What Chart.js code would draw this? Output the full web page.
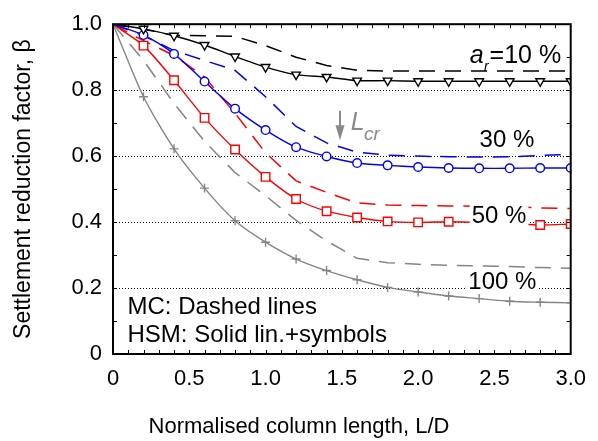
<!DOCTYPE html>
<html><head><meta charset="utf-8">
<script src="https://cdn.jsdelivr.net/npm/chart.js@4/dist/chart.umd.min.js"></script>
<style>html,body{margin:0;padding:0;background:#fff}</style>
</head><body>
<canvas id="c" width="598" height="441"></canvas>
<script>
// ---- data ----
const lengthRatio = [0, 0.2, 0.4, 0.6, 0.8, 1.0, 1.2, 1.4, 1.6, 1.8, 2.0, 2.2, 2.4, 2.6, 2.8, 3.0];
const hsm10  = [1.0, 0.986, 0.965, 0.937, 0.902, 0.870, 0.847, 0.840, 0.829, 0.829, 0.827, 0.827, 0.827, 0.827, 0.827, 0.827];
const hsm30  = [1.0, 0.967, 0.910, 0.826, 0.744, 0.679, 0.627, 0.599, 0.579, 0.572, 0.567, 0.564, 0.563, 0.563, 0.564, 0.564];
const hsm50  = [1.0, 0.935, 0.830, 0.716, 0.620, 0.537, 0.470, 0.433, 0.414, 0.402, 0.399, 0.401, 0.399, 0.397, 0.391, 0.394];
const hsm100 = [1.0, 0.780, 0.622, 0.503, 0.404, 0.339, 0.288, 0.253, 0.225, 0.202, 0.188, 0.176, 0.168, 0.160, 0.157, 0.155];
const mc10   = [1.0, 0.985, 0.966, 0.965, 0.963, 0.935, 0.900, 0.875, 0.860, 0.858, 0.858, 0.858, 0.858, 0.858, 0.858, 0.858];
const mc30   = [1.0, 0.965, 0.920, 0.890, 0.860, 0.780, 0.690, 0.640, 0.612, 0.603, 0.600, 0.598, 0.597, 0.598, 0.602, 0.605];
const mc50   = [1.0, 0.950, 0.905, 0.840, 0.730, 0.610, 0.525, 0.490, 0.458, 0.452, 0.450, 0.449, 0.448, 0.446, 0.443, 0.441];
const mc100  = [1.0, 0.890, 0.760, 0.645, 0.550, 0.480, 0.405, 0.343, 0.290, 0.277, 0.272, 0.269, 0.267, 0.265, 0.262, 0.260];
const xTickValues = [0, 0.5, 1.0, 1.5, 2.0, 2.5, 3.0];
const yTickValues = [0, 0.2, 0.4, 0.6, 0.8, 1.0];
const ratioLabels = ['10 %', '30 %', '50 %', '100 %'];
const methodNotes = ['MC: Dashed lines', 'HSM: Solid lin.+symbols'];

// ---- styling ----
const FONT = '"Liberation Sans", Arial, Helvetica, sans-serif';
const BLACK = '#000000', BLUE = '#0000ff', RED = '#ff0000', GREY = '#858585';
const pts = arr => lengthRatio.map((x, i) => ({x, y: arr[i]}));
const markerR = r => lengthRatio.map((x, i) => i === 0 ? 0 : r);

function hsm(label, arr, color, style, r, extra) {
  return Object.assign({
    label, data: pts(arr), borderColor: color, borderWidth: 1.4,
    pointStyle: style, pointRadius: markerR(r), pointHoverRadius: markerR(r),
    pointBorderColor: color, pointBackgroundColor: '#ffffff', pointBorderWidth: 1.4,
    tension: 0.25, fill: false
  }, extra || {});
}
function mc(label, arr, color) {
  return { label, data: pts(arr), borderColor: color, borderWidth: 1.5, borderDash: [16, 10],
    pointRadius: 0, pointHoverRadius: 0, tension: 0, fill: false };
}

const annot = {
  id: 'annot',
  afterDatasetsDraw(chart) {
    const {ctx, chartArea: a, scales: {x, y}} = chart;
    const X = v => x.getPixelForValue(v), Y = v => y.getPixelForValue(v);
    ctx.save();
    ctx.textAlign = 'left'; ctx.textBaseline = 'alphabetic';
    function t(s, px, py, font, color) { ctx.font = font; ctx.fillStyle = color; ctx.fillText(s, px, py); return ctx.measureText(s).width; }
    function bg(px, py, w, h) { ctx.fillStyle = '#ffffff'; ctx.fillRect(px, py, w, h); }
    // 10 % label with a_r
    let px = X(2.338), py = Y(0.883);
    let w = t('a', px, py, 'italic 25px ' + FONT, BLACK);
    t('r', px + w + 0.5, py + 8, 'italic 14px ' + FONT, BLACK);
    t('=' + ratioLabels[0], px + w + 6, py, '25px ' + FONT, BLACK);
    // 30 %
    t(ratioLabels[1], X(2.403), Y(0.628), '24px ' + FONT, BLACK);
    // 50 %
    px = X(2.351); py = Y(0.396);
    ctx.font = '24px ' + FONT; w = ctx.measureText(ratioLabels[2]).width;
    bg(px - 2, py - 20, w + 4, 26);
    t(ratioLabels[2], px, py, '24px ' + FONT, BLACK);
    // 100 %
    px = X(2.329); py = Y(0.196);
    ctx.font = '24px ' + FONT; w = ctx.measureText(ratioLabels[3]).width;
    bg(px - 2, py - 20, w + 4, 23);
    t(ratioLabels[3], px, py, '24px ' + FONT, BLACK);
    // method notes
    t(methodNotes[0], X(0.095), Y(0.122), '24px ' + FONT, BLACK);
    t(methodNotes[1], X(0.095), Y(0.036), '24px ' + FONT, BLACK);
    // L_cr arrow
    const ax = X(1.488), ay0 = Y(0.737), ay1 = Y(0.648);
    ctx.strokeStyle = '#8a8a8a'; ctx.fillStyle = '#8a8a8a'; ctx.lineWidth = 2;
    ctx.beginPath(); ctx.moveTo(ax, ay0); ctx.lineTo(ax, ay1 - 12); ctx.stroke();
    ctx.beginPath(); ctx.moveTo(ax - 4.5, ay1 - 15); ctx.lineTo(ax + 4.5, ay1 - 15); ctx.lineTo(ax, ay1); ctx.closePath(); ctx.fill();
    w = t('L', X(1.558), Y(0.680), 'italic 25px ' + FONT, '#8a8a8a');
    t('cr', X(1.558) + w - 0.5, Y(0.649), 'italic 19px ' + FONT, '#8a8a8a');
    // frame and inward minor ticks
    ctx.strokeStyle = BLACK; ctx.lineWidth = 2;
    ctx.strokeRect(a.left, a.top, a.right - a.left, a.bottom - a.top);
    ctx.lineWidth = 1;
    ctx.beginPath();
    for (let i = 1; i < 30; i++) {
      const p = Math.round(X(i / 10)) + 0.5;
      ctx.moveTo(p, a.bottom); ctx.lineTo(p, a.bottom - 4);
      ctx.moveTo(p, a.top); ctx.lineTo(p, a.top + 4);
    }
    for (let i = 1; i < 10; i++) {
      const p = Math.round(Y(i / 10)) + 0.5;
      ctx.moveTo(a.left, p); ctx.lineTo(a.left + 4, p);
      ctx.moveTo(a.right, p); ctx.lineTo(a.right - 4, p);
    }
    ctx.stroke();
    ctx.restore();
  }
};

new Chart(document.getElementById('c'), {
  type: 'line',
  data: {
    datasets: [
      hsm('HSM 10 %', hsm10, BLACK, 'triangle', 5, {rotation: 180}),
      hsm('HSM 30 %', hsm30, BLUE, 'circle', 4.3),
      hsm('HSM 50 %', hsm50, RED, 'rect', 6),
      hsm('HSM 100 %', hsm100, GREY, 'cross', 4.5),
      mc('MC 10 %', mc10, BLACK),
      mc('MC 30 %', mc30, BLUE),
      mc('MC 50 %', mc50, RED),
      mc('MC 100 %', mc100, GREY)
    ]
  },
  options: {
    responsive: false, animation: false, devicePixelRatio: 1,
    layout: {padding: {top: 18, left: 0, right: 0, bottom: 0}},
    plugins: {
      legend: {display: false}, tooltip: {enabled: false},
      title: {display: true, position: 'bottom', text: 'Normalised column length, L/D',
        color: BLACK, font: {family: FONT, size: 22, weight: 'normal'}, padding: {top: 10, bottom: 1}}
    },
    scales: {
      x: {
        type: 'linear', min: 0, max: 3,
        afterFit: s => { s.height = 49.6; },
        afterBuildTicks: s => { s.ticks = xTickValues.map(v => ({value: v})); },
        grid: {display: false, drawTicks: false},
        border: {display: false},
        ticks: {color: BLACK, padding: 12, font: {family: FONT, size: 22},
          callback: v => v === 0 ? '0' : v.toFixed(1), maxRotation: 0, autoSkip: false}
      },
      y: {
        type: 'linear', min: 0, max: 1,
        afterFit: s => { s.width = 113; },
        afterBuildTicks: s => { s.ticks = yTickValues.map(v => ({value: v})); },
        grid: {drawTicks: false, lineWidth: 1,
          color: c => (c.tick && c.tick.value > 0.01 && c.tick.value < 0.99) ? '#000000' : 'rgba(0,0,0,0)'},
        border: {display: false, dash: [1, 2]},
        ticks: {color: BLACK, padding: 11, font: {family: FONT, size: 22},
          callback: v => v === 0 ? '0' : v.toFixed(1)},
        title: {display: true, text: 'Settlement reduction factor, β', color: BLACK,
          font: {family: FONT, size: 23}, padding: {top: 10, bottom: 0}}
      },
      y2: {
        type: 'linear', position: 'right', display: true, min: 0, max: 1,
        afterFit: s => { s.width = 23; },
        grid: {display: false, drawTicks: false}, border: {display: false},
        ticks: {display: false}
      }
    }
  },
  plugins: [annot]
});
</script>
</body></html>
